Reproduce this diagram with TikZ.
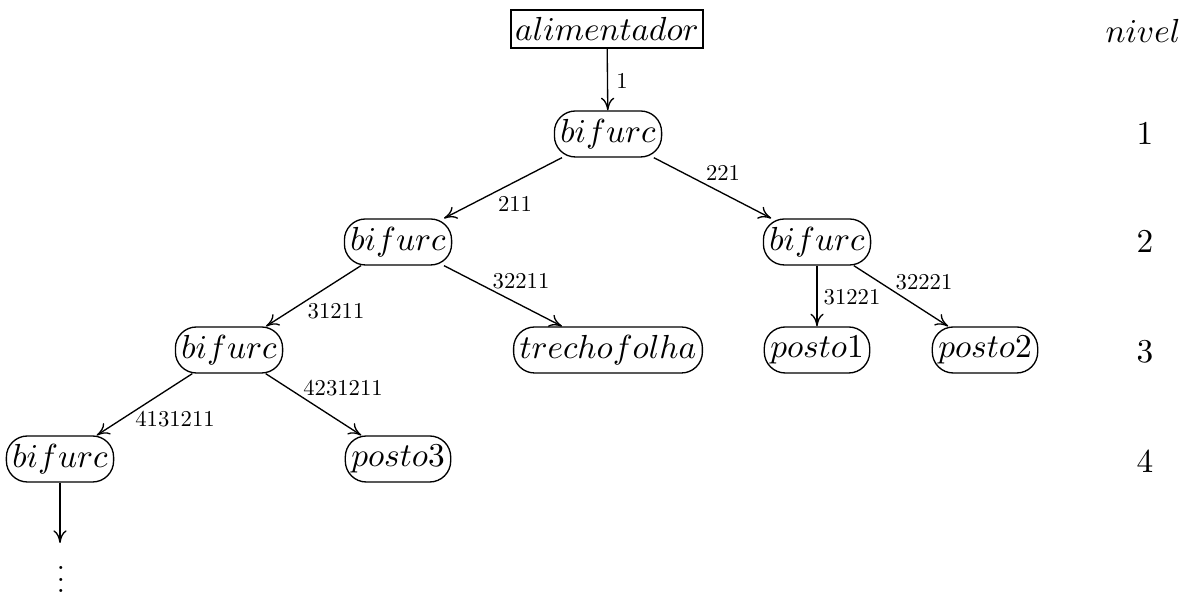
\documentclass[tikz,border=0pt]{standalone}
\usepackage{graphicx}
\usetikzlibrary{arrows.meta}
\newcommand{\lblsz}[1]{\scalebox{0.68}{#1}}
\begin{document}
\begin{tikzpicture}[x=0.3pt,y=-0.3pt,
  rnode/.style={draw, rounded corners=6.3pt, minimum height=13.8pt, inner xsep=1.8pt, inner ysep=0pt, line width=0.4pt},
  bnode/.style={draw, minimum height=11.4pt, inner xsep=1.3pt, inner ysep=0pt, line width=0.4pt},
  edge/.style={-{To[length=3.8pt,width=4pt]}, line width=0.4pt},
  lbl/.style={inner sep=0pt},
  lvl/.style={inner sep=0pt}]
\useasboundingbox (0,0) rectangle (1190,595);
% nodes
\node[bnode] (ali) at (607,29) {$alimentador$};
\node[rnode] (b1) at (608,134) {$bifurc$};
\node[rnode] (b2l) at (398,242) {$bifurc$};
\node[rnode] (b2r) at (817,242) {$bifurc$};
\node[rnode] (b3) at (229,350) {$bifurc$};
\node[rnode] (tf) at (608,350) {$trechofolha$};
\node[rnode] (p1) at (817,350) {$posto1$};
\node[rnode] (p2) at (985,350) {$posto2$};
\node[rnode] (b4) at (60,459) {$bifurc$};
\node[rnode] (p3) at (398,459) {$posto3$};
\coordinate (end) at (60,543);
\node[anchor=base, inner sep=0pt] (dots) at (61,593) {\scalebox{0.87}{$\vdots$}};
% edges
\draw[edge] (ali) -- (b1);
\draw[edge] (b1) -- (b2l);
\draw[edge] (b1) -- (b2r);
\draw[edge] (b2l) -- (b3);
\draw[edge] (b2l) -- (tf);
\draw[edge] (b2r) -- (p1);
\draw[edge] (b2r) -- (p2);
\draw[edge] (b3) -- (b4);
\draw[edge] (b3) -- (p3);
\draw[edge] (b4) -- (end);
% edge labels
\node[lbl] (l1) at (622,81) {\lblsz{1}};
\node[lbl] (l221) at (723,173) {\lblsz{221}};
\node[lbl] (l211) at (515,204) {\lblsz{211}};
\node[lbl] (l32211) at (521,281) {\lblsz{32211}};
\node[lbl] (l31211) at (336,311) {\lblsz{31211}};
\node[lbl] (l31221) at (852,297) {\lblsz{31221}};
\node[lbl] (l32221) at (924,282) {\lblsz{32221}};
\node[lbl] (l4231211) at (343,388) {\lblsz{4231211}};
\node[lbl] (l4131211) at (175,419) {\lblsz{4131211}};
% levels
\node[lvl] (niv) at (1143,31) {$nivel$};
\node[lvl] (n1) at (1145,134) {$1$};
\node[lvl] (n2) at (1145,242) {$2$};
\node[lvl] (n3) at (1145,352) {$3$};
\node[lvl] (n4) at (1145,462) {$4$};
\end{tikzpicture}
\end{document}
